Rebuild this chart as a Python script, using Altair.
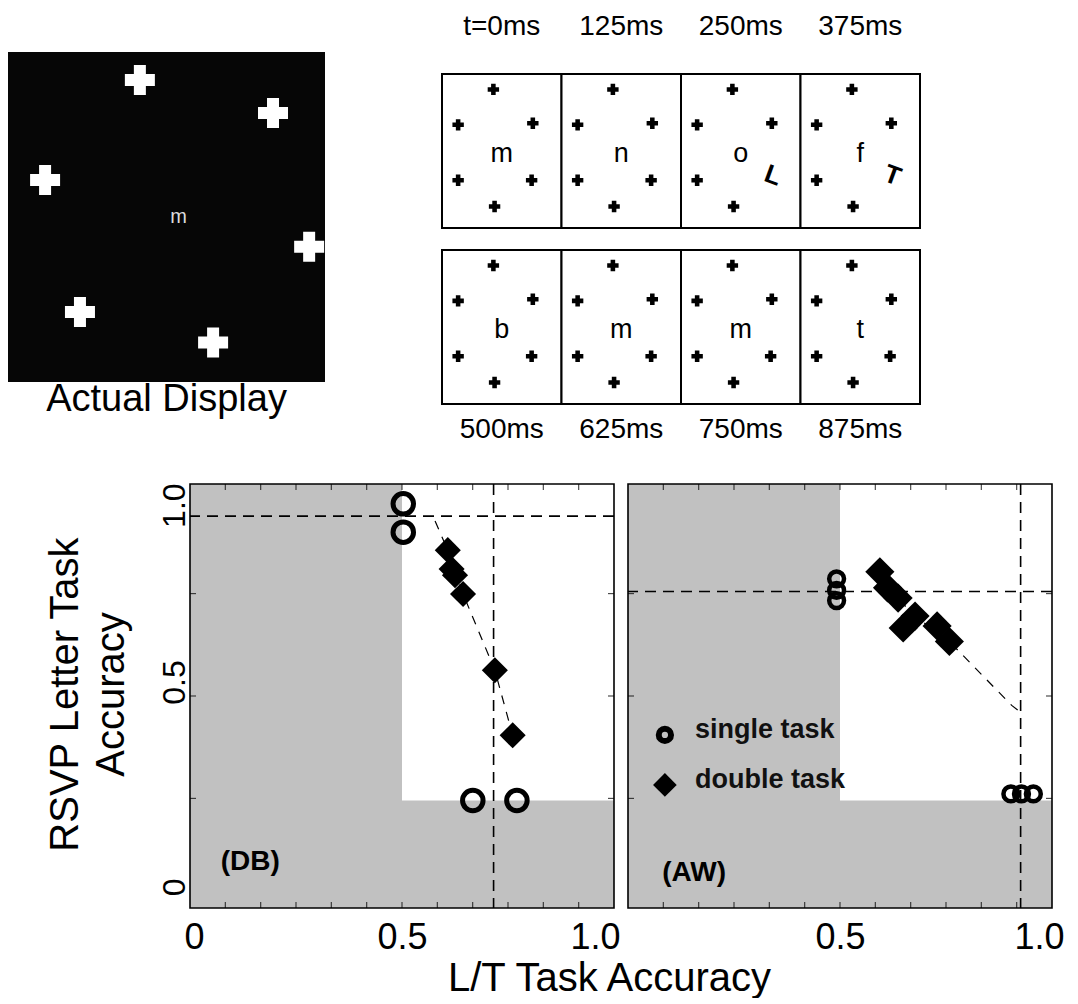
import altair as alt
import pandas as pd

FONT = "Liberation Sans"
GRAY = "#c1c1c1"

# ---------------- data: top-left, the actual display ----------------
display_cross_x = [0.416, 0.836, 0.117, 0.950, 0.227, 0.647]
display_cross_y = [0.085, 0.185, 0.388, 0.590, 0.788, 0.880]
display_letter = ["m"]
display_caption = ["Actual Display"]

# ---------------- data: RSVP frame sequence ----------------
frame_times = ["t=0ms", "125ms", "250ms", "375ms", "500ms", "625ms", "750ms", "875ms"]
frame_letters = ["m", "n", "o", "f", "b", "m", "m", "t"]
frame_targets = ["", "", "L", "T", "", "", "", ""]
# six placeholder crosses (fraction of a frame); slot 4 holds the L/T target when present
cross_fx = [0.43, 0.135, 0.76, 0.135, 0.75, 0.44]
cross_fy = [0.10, 0.33, 0.32, 0.69, 0.69, 0.86]
TARGET_SLOT = 4

# ---------------- data: subject DB ----------------
db_single_x = [0.503, 0.503, 0.667, 0.771]
db_single_y = [0.969, 0.900, 0.245, 0.245]
db_double_x = [0.608, 0.617, 0.625, 0.644, 0.719, 0.761]
db_double_y = [0.856, 0.810, 0.795, 0.749, 0.563, 0.404]
db_single_rsvp = [0.939]
db_single_lt = [0.716]
db_fit_x = [0.578, 0.608, 0.644, 0.719, 0.761]
db_fit_y = [0.927, 0.856, 0.749, 0.563, 0.404]

# ---------------- data: subject AW ----------------
aw_single_x = [0.492, 0.492, 0.492, 0.903, 0.928, 0.956]
aw_single_y = [0.786, 0.758, 0.733, 0.261, 0.261, 0.261]
aw_double_x = [0.594, 0.612, 0.637, 0.649, 0.677, 0.729, 0.758]
aw_double_y = [0.803, 0.764, 0.739, 0.666, 0.695, 0.671, 0.633]
aw_single_rsvp = [0.755]
aw_single_lt = [0.926]
aw_fit_x = [0.612, 0.677, 0.758, 0.905, 0.926]
aw_fit_y = [0.764, 0.695, 0.633, 0.477, 0.460]

# chance levels (white = above chance on both tasks)
chance_lt = 0.5
chance_rsvp = 0.245

legend_labels = ["single task", "double task"]
subject_tags = ["(DB)", "(AW)"]

# =====================================================================
# Actual display
act_x = alt.Scale(domain=[0, 1], nice=False, zero=False)
act_y = alt.Scale(domain=[-0.133, 1.206], nice=False, zero=False, reverse=True)


def AX(f, s):
    return alt.X(f, type="quantitative", scale=s, axis=None)


def AY(f, s):
    return alt.Y(f, type="quantitative", scale=s, axis=None)


sq = alt.Chart(pd.DataFrame({"x": [0.0], "x2": [1.0], "y": [0.0], "y2": [1.0]})).mark_rect(
    color="#060606").encode(x=AX("x", act_x), x2="x2:Q", y=AY("y", act_y), y2="y2:Q")
act_cr = alt.Chart(pd.DataFrame({"x": display_cross_x, "y": display_cross_y})).mark_point(
    shape="cross", filled=True, color="white", size=900, opacity=1
).encode(x=AX("x", act_x), y=AY("y", act_y))
act_letter = alt.Chart(pd.DataFrame({"x": [0.538], "y": [0.5], "t": display_letter})).mark_text(
    color="#dcdcdc", fontSize=20).encode(x=AX("x", act_x), y=AY("y", act_y), text="t:N")
act_cap = alt.Chart(pd.DataFrame({"x": [0.5], "y": [1.055], "t": display_caption})).mark_text(
    color="black", fontSize=38).encode(x=AX("x", act_x), y=AY("y", act_y), text="t:N")
actual = alt.layer(sq, act_cr, act_letter, act_cap).properties(width=317, height=442)

# =====================================================================
# RSVP sequence
BOX_H = 0.875
rs_x = alt.Scale(domain=[0, 4], nice=False, zero=False)
rs_y = alt.Scale(domain=[-0.375, 2.136], nice=False, zero=False, reverse=True)

fr = pd.DataFrame({"time": frame_times, "letter": frame_letters, "target": frame_targets})
fr["col"] = [i % 4 for i in range(len(fr))]
fr["row"] = [i // 4 for i in range(len(fr))]
fr["x"] = fr["col"]
fr["x2"] = fr["col"] + 1
fr["y"] = fr["row"].astype(float)
fr["y2"] = fr["row"] + BOX_H
fr["cx"] = fr["col"] + 0.5
fr["ly"] = fr["row"] + 0.52 * BOX_H
fr["ty"] = [-0.267 if r == 0 else 1 + BOX_H + 0.148 for r in fr["row"]]

cr_rows = []
for _, r in fr.iterrows():
    for k in range(len(cross_fx)):
        if r["target"] and k == TARGET_SLOT:
            continue
        cr_rows.append({"x": r["col"] + cross_fx[k], "y": r["row"] + cross_fy[k] * BOX_H})
cr_df = pd.DataFrame(cr_rows)
tg = fr[fr["target"] != ""].copy()
tg["tx"] = tg["col"] + 0.77
tg["tyy"] = tg["row"] + 0.66 * BOX_H

boxes = alt.Chart(fr).mark_rect(fill="white", stroke="black", strokeWidth=2).encode(
    x=AX("x", rs_x), x2="x2:Q", y=AY("y", rs_y), y2="y2:Q")
rs_cr = alt.Chart(cr_df).mark_point(shape="cross", filled=True, color="black", size=130, opacity=1).encode(
    x=AX("x", rs_x), y=AY("y", rs_y))
rs_let = alt.Chart(fr).mark_text(fontSize=27, color="black").encode(
    x=AX("cx", rs_x), y=AY("ly", rs_y), text="letter:N")
rs_tg = alt.Chart(tg).mark_text(fontSize=26, fontWeight="bold", angle=20, color="black").encode(
    x=AX("tx", rs_x), y=AY("tyy", rs_y), text="target:N")
rs_time = alt.Chart(fr).mark_text(fontSize=28, color="black").encode(
    x=AX("cx", rs_x), y=AY("ty", rs_y), text="time:N")
rsvp = alt.layer(boxes, rs_cr, rs_let, rs_tg, rs_time).properties(width=478, height=442)

# =====================================================================
# Scatter panels
Y0, Y1 = -0.0175, 1.0175
XS = alt.Scale(domain=[0, 1], nice=False, zero=False)
YS = alt.Scale(domain=[Y0, Y1], nice=False, zero=False)
LBL = "datum.value == 0 ? '0' : format(datum.value, '.1f')"

db_xaxis = alt.Axis(values=[0, 0.5, 1], labelExpr=LBL, ticks=False, domain=False, grid=False,
                    labelFontSize=36, labelPadding=12, labelFlush=True, labelFlushOffset=6,
                    title="L/T Task Accuracy", titleFontSize=40, titleFontWeight="normal",
                    titleX=419, titleY=82, titleAlign="center", titleBaseline="alphabetic")
db_yaxis = alt.Axis(values=[0, 0.5, 1], labelExpr=LBL, ticks=False, domain=False, grid=False,
                    labelFontSize=32, labelAngle=270, labelAlign="center", labelBaseline="alphabetic",
                    labelPadding=6,
                    labelOffset={"condition": {"test": "datum.value == 1", "value": 14}, "value": -14},
                    title=["RSVP Letter Task", "Accuracy"], titleFontSize=40, titleFontWeight="normal",
                    titleAngle=270, titleX=-113, titleY=210, titleAlign="center",
                    titleBaseline="alphabetic", titleLineHeight=46)
aw_xaxis = alt.Axis(values=[0.5, 1], labelExpr=LBL, ticks=False, domain=False, grid=False,
                    labelFontSize=36, labelPadding=12, labelFlush=True, labelFlushOffset=12, title=None)

tick_x = [k / 12 for k in range(1, 12)]
tick_y = [0.25, 0.5, 0.75]


def panel(sx, sy, dx, dy, hl, vl, fx, fy, tag, tag_x, tag_y, xaxis, yaxis, legend=False,
          csize=380, cstroke=5, dsize=650):
    def X(f):
        return alt.X(f, type="quantitative", scale=XS, axis=xaxis)

    def Y(f):
        return alt.Y(f, type="quantitative", scale=YS, axis=yaxis)

    white = alt.Chart(pd.DataFrame({"x": [chance_lt], "x2": [1.0], "y": [chance_rsvp], "y2": [Y1]})).mark_rect(
        color="white").encode(x=X("x"), x2="x2:Q", y=Y("y"), y2="y2:Q")
    hr = alt.Chart(pd.DataFrame({"y": hl})).mark_rule(color="black", strokeWidth=1.6, strokeDash=[11, 7]).encode(
        y=Y("y"))
    vr = alt.Chart(pd.DataFrame({"x": vl})).mark_rule(color="black", strokeWidth=1.6, strokeDash=[11, 7]).encode(
        x=X("x"))
    fit = alt.Chart(pd.DataFrame({"x": fx, "y": fy})).mark_line(color="black", strokeWidth=1.2,
                                                                strokeDash=[9, 8]).encode(x=X("x"), y=Y("y"))
    dia = alt.Chart(pd.DataFrame({"x": dx, "y": dy})).mark_point(
        shape="diamond", filled=True, color="black", size=dsize, opacity=1).encode(x=X("x"), y=Y("y"))
    cir = alt.Chart(pd.DataFrame({"x": sx, "y": sy})).mark_point(
        shape="circle", filled=False, color="black", size=csize, strokeWidth=cstroke, opacity=1).encode(
        x=X("x"), y=Y("y"))
    tx_df = pd.DataFrame({"x": tick_x * 2, "y": [Y0] * len(tick_x) + [Y1] * len(tick_x)})
    tks_x = alt.Chart(tx_df).mark_tick(orient="vertical", size=12, thickness=1.2, color="black",
                                       clip=True).encode(x=X("x"), y=Y("y"))
    ty_df = pd.DataFrame({"x": [0.0] * len(tick_y) + [1.0] * len(tick_y), "y": tick_y * 2})
    tks_y = alt.Chart(ty_df).mark_tick(orient="horizontal", size=12, thickness=1.2, color="black",
                                       clip=True).encode(x=X("x"), y=Y("y"))
    lab = alt.Chart(pd.DataFrame({"x": [tag_x], "y": [tag_y], "t": [tag]})).mark_text(
        fontSize=28, fontWeight="bold", color="black").encode(x=X("x"), y=Y("y"), text="t:N")
    frame = alt.Chart(pd.DataFrame({"x": [0.0], "x2": [1.0], "y": [Y0], "y2": [Y1]})).mark_rect(
        fillOpacity=0, stroke="black", strokeWidth=1.6).encode(x=X("x"), x2="x2:Q", y=Y("y"), y2="y2:Q")
    layers = [white, hr, vr, fit, dia, cir, tks_x, tks_y, lab]
    if legend:
        lg_c = alt.Chart(pd.DataFrame({"x": [0.087], "y": [0.405]})).mark_point(
            shape="circle", filled=False, color="black", size=150, strokeWidth=6, opacity=1).encode(
            x=X("x"), y=Y("y"))
        lg_d = alt.Chart(pd.DataFrame({"x": [0.087], "y": [0.283]})).mark_point(
            shape="diamond", filled=True, color="black", size=560, opacity=1).encode(x=X("x"), y=Y("y"))
        lg_t = alt.Chart(pd.DataFrame({"x": [0.158, 0.158], "y": [0.417, 0.295], "t": legend_labels})).mark_text(
            fontSize=27, fontWeight="bold", align="left", baseline="middle", color="#111111").encode(
            x=X("x"), y=Y("y"), text="t:N")
        layers += [lg_c, lg_d, lg_t]
    layers.append(frame)
    return alt.layer(*layers).properties(width=424, height=424, view=alt.ViewBackground(fill=GRAY))


db = panel(db_single_x, db_single_y, db_double_x, db_double_y, db_single_rsvp, db_single_lt,
           db_fit_x, db_fit_y, subject_tags[0], 0.142, 0.095, db_xaxis, db_yaxis,
           csize=420, cstroke=5, dsize=680)
aw = panel(aw_single_x, aw_single_y, aw_double_x, aw_double_y, aw_single_rsvp, aw_single_lt,
           aw_fit_x, aw_fit_y, subject_tags[1], 0.156, 0.068, aw_xaxis, None, legend=True,
           csize=220, cstroke=4.5, dsize=850)

spacer = alt.Chart(pd.DataFrame({"a": [0]})).mark_point(opacity=0).encode(
    x=alt.X("a:Q", axis=None), y=alt.Y("a:Q", axis=None)).properties(width=168, height=424)

row1 = alt.hconcat(actual, rsvp, spacing=117, bounds="flush")
row2 = alt.hconcat(spacer, db, aw, spacing=14, bounds="flush")

chart = (
    alt.vconcat(row1, row2, spacing=32, padding=0)
    .configure(font=FONT)
    .configure_view(stroke="transparent", strokeWidth=0)
    .configure_axis(labelColor="black", titleColor="black", labelFont=FONT, titleFont=FONT)
    .configure_text(font=FONT)
)

chart.save("out.html", embed_options={"renderer": "svg", "actions": False})
